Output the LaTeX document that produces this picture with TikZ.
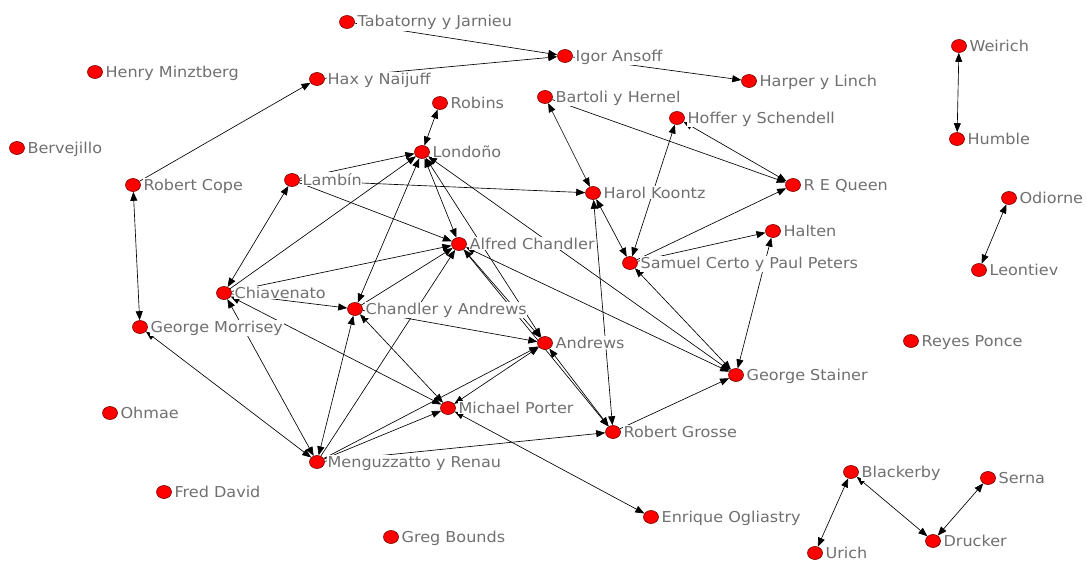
\documentclass[tikz,border=0pt]{standalone}
\usepackage{fontspec}
\usetikzlibrary{arrows.meta,shapes.geometric,backgrounds}
\newfontfamily\labfont[FakeStretch=1.07]{DejaVu Sans}
\definecolor{labgray}{RGB}{112,112,112}
\definecolor{dotred}{RGB}{255,0,0}
\definecolor{dotrim}{RGB}{120,0,0}
\tikzset{
  dot/.style={ellipse, minimum width=15pt, minimum height=13pt, inner sep=0pt,
    fill=dotred, draw=dotrim, line width=0.6pt},
  lab/.style={anchor=base west, inner sep=0.6pt, fill=white, text=labgray,
    font=\labfont\fontsize{15}{18}\selectfont},
  one/.style={draw=black, line width=0.65pt, -{Triangle[length=9pt,width=7pt]}},
  two/.style={draw=black, line width=0.65pt, {Triangle[length=9pt,width=7pt]}-{Triangle[length=9pt,width=7pt]}}
}
\newcommand\mk[4]{\node[dot] (#1) at (#2,#3) {};
  \node[lab] (#1-l) at ([xshift=2pt,yshift=-5pt]#1.east) {#4};}
\begin{document}
\begin{tikzpicture}[x=1pt,y=-1pt]
\useasboundingbox (0,0) rectangle (1086,562);
\mk{tab}{347}{22}{Tabatorny y Jarnieu}
\mk{igor}{565}{56}{Igor Ansoff}
\mk{harper}{749}{81}{Harper y Linch}
\mk{henry}{95}{72}{Henry Minztberg}
\mk{hax}{317}{79}{Hax y Naijuff}
\mk{robins}{440}{103}{Robins}
\mk{bartoli}{545}{97}{Bartoli y Hernel}
\mk{hoffer}{677}{118}{Hoffer y Schendell}
\mk{weirich}{959}{46}{Weirich}
\mk{humble}{957}{139}{Humble}
\mk{berv}{17}{148}{Bervejillo}
\mk{lond}{422}{152}{Londoño}
\mk{cope}{133}{185}{Robert Cope}
\mk{lambin}{292}{180}{Lambín}
\mk{harol}{593}{193}{Harol Koontz}
\mk{queen}{793}{185}{R E Queen}
\mk{odiorne}{1009}{198}{Odiorne}
\mk{alfred}{459}{244}{Alfred Chandler}
\mk{halten}{773}{231}{Halten}
\mk{samuel}{630}{263}{Samuel Certo y Paul Peters}
\mk{leontiev}{979}{270}{Leontiev}
\mk{chiav}{224}{293}{Chiavenato}
\mk{ca}{355}{309}{Chandler y Andrews}
\mk{morrisey}{140}{327}{George Morrisey}
\mk{andrews}{545}{343}{Andrews}
\mk{reyes}{911}{341}{Reyes Ponce}
\mk{stainer}{736}{375}{George Stainer}
\mk{ohmae}{110}{413}{Ohmae}
\mk{porter}{448}{408}{Michael Porter}
\mk{grosse}{613}{432}{Robert Grosse}
\mk{meng}{317}{462}{Menguzzatto y Renau}
\mk{blackerby}{851}{472}{Blackerby}
\mk{serna}{988}{478}{Serna}
\mk{fred}{164}{492}{Fred David}
\mk{enrique}{651}{517}{Enrique Ogliastry}
\mk{drucker}{933}{541}{Drucker}
\mk{urich}{815}{553}{Urich}
\mk{greg}{391}{537}{Greg Bounds}
\begin{scope}[on background layer]
\fill[white] (0,0) rectangle (1086,562);
\foreach \a/\b in {tab/igor, hax/igor, igor/harper, cope/hax, bartoli/queen,
  samuel/queen, samuel/halten, lambin/harol, lambin/lond, lambin/alfred,
  chiav/lond, chiav/alfred, chiav/ca, meng/alfred, ca/alfred, alfred/grosse,
  meng/porter, meng/andrews, meng/grosse, grosse/stainer, ca/andrews}
  \draw[one] (\a) -- (\b);
\foreach \a/\b in {cope/morrisey, weirich/humble, odiorne/leontiev, robins/lond,
  bartoli/harol, hoffer/queen, hoffer/samuel, stainer/halten, harol/samuel,
  grosse/harol, chiav/lambin, chiav/meng, chiav/porter, morrisey/meng,
  lond/alfred, lond/ca, meng/ca, lond/andrews, lond/stainer, alfred/stainer,
  samuel/stainer, alfred/andrews, andrews/grosse, porter/andrews, ca/porter,
  porter/enrique, blackerby/urich, blackerby/drucker, drucker/serna}
  \draw[two] (\a) -- (\b);
\end{scope}
\end{tikzpicture}
\end{document}
